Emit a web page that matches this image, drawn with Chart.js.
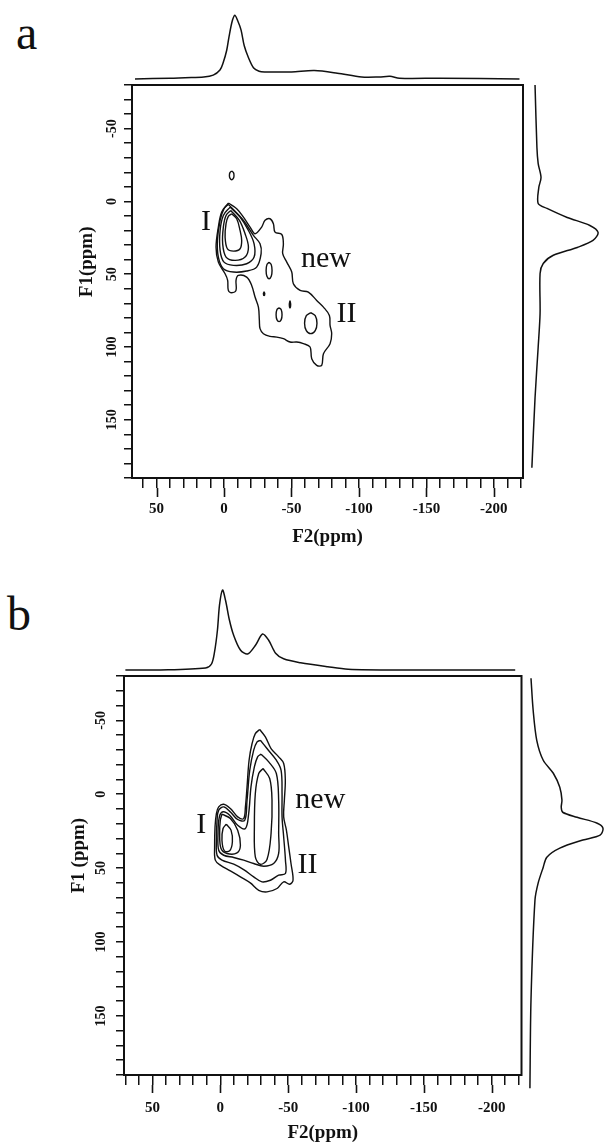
<!DOCTYPE html>
<html>
<head>
<meta charset="utf-8">
<title>2D exchange spectra</title>
<script src="https://cdn.jsdelivr.net/npm/chart.js@4.4.1/dist/chart.umd.min.js"></script>
<style>
  html, body { margin: 0; padding: 0; background: #fff; }
  #page { position: relative; width: 605px; height: 1143px; overflow: hidden; }
  .box { position: absolute; }
  .letter { position: absolute; font: 48px "Liberation Serif", serif; line-height: 48px; color: #111; }
</style>
</head>
<body>
<div id="page">
  <div class="letter" style="left:16px; top:9px;">a</div>
  <div class="letter" style="left:7px; top:590px;">b</div>
  <div class="box" style="left:0; top:60px; width:605px; height:500px;"><canvas id="mainA"></canvas></div>
  <div class="box" style="left:132px; top:12px; width:391px; height:72px;"><canvas id="topA"></canvas></div>
  <div class="box" style="left:524px; top:85px; width:81px; height:393px;"><canvas id="sideA"></canvas></div>
  <div class="box" style="left:0; top:650px; width:605px; height:493px;"><canvas id="mainB"></canvas></div>
  <div class="box" style="left:124px; top:585px; width:398px; height:88px;"><canvas id="topB"></canvas></div>
  <div class="box" style="left:522px; top:676px; width:83px; height:420px;"><canvas id="sideB"></canvas></div>
</div>
<script>
// axis labels (ppm)
const f2Labels = [50, 0, -50, -100, -150, -200];
const f1Labels = [-50, 0, 50, 100, 150];

// ---- panel a : contour rings, [F2, F1] in ppm ----
const aRing1 = [[-3.2,1.1],[-9.4,5.0],[-14.4,10.8],[-19.3,17.6],[-23.0,22.2],[-27.9,17.6],[-30.4,13.0],[-34.1,11.9],[-36.6,15.3],[-37.8,21.1],[-42.8,22.7],[-44.0,29.1],[-43.5,35.9],[-46.5,41.7],[-50.2,48.5],[-51.4,56.5],[-56.4,61.1],[-62.5,62.3],[-68.7,68.0],[-73.7,72.6],[-78.1,78.3],[-78.6,85.1],[-79.8,90.9],[-78.6,97.7],[-73.7,104.6],[-72.4,112.6],[-68.7,112.6],[-65.0,108.0],[-63.8,100.0],[-58.8,97.7],[-53.9,96.6],[-49.0,96.6],[-44.0,94.3],[-39.1,93.2],[-34.1,92.7],[-29.2,90.9],[-26.7,87.4],[-26.2,81.7],[-25.5,72.6],[-23.0,65.7],[-20.5,57.7],[-16.8,52.0],[-10.6,50.8],[-8.9,54.2],[-8.9,61.1],[-5.7,62.7],[-3.2,61.1],[-2.7,54.2],[-0.8,49.7],[4.2,41.7],[5.9,31.4],[4.2,17.6],[1.7,7.3]];
const aRing2 = [[-3.2,2.0],[-14.4,13.0],[-21.8,23.3],[-26.7,29.1],[-27.5,35.9],[-24.2,45.1],[-16.8,47.8],[-7.0,48.5],[0.5,46.2],[4.2,38.2],[4.9,26.8],[2.9,13.0],[0,5.0]];
const aRing3 = [[-4.5,3.9],[-11.9,10.8],[-18.1,19.9],[-22.3,29.1],[-22.3,38.2],[-16.8,42.8],[-7.0,43.9],[0,41.7],[2.9,33.6],[2.9,19.9],[0.5,9.6]];
const aRing4 = [[-5.0,6.2],[-11.4,13.0],[-15.6,22.2],[-18.1,31.4],[-15.6,38.2],[-8.2,40.5],[-1.5,38.2],[1.0,29.1],[0.5,17.6],[-1.5,9.6]];
const aRing5 = [[-5.7,8.5],[-9.4,11.9],[-11.9,19.9],[-13.1,26.8],[-11.9,32.5],[-7.0,34.1],[-2.5,32.5],[-0.8,24.5],[-1.5,15.3],[-3.2,10.3]];
const aDotTop = [[-5.7,-20.9],[-7.0,-19.8],[-7.4,-17.9],[-7.0,-16.0],[-5.7,-14.9],[-4.4,-16.0],[-4.0,-17.9],[-4.4,-19.8]];
const aBlob1 = [[-33.4,41.7],[-35.0,43.4],[-35.6,47.4],[-35.0,51.4],[-33.4,53.1],[-31.8,51.4],[-31.2,47.4],[-31.8,43.4]];
const aBlob2 = [[-29.7,62.1],[-30.2,63.4],[-29.7,64.7],[-29.2,63.4]];
const aBlob3 = [[-40.8,73.0],[-42.4,74.4],[-43.0,77.8],[-42.4,81.2],[-40.8,82.6],[-39.2,81.2],[-38.6,77.8],[-39.2,74.4]];
const aBlob4 = [[-48.9,68.2],[-49.4,70.7],[-48.9,73.2],[-48.4,70.7]];
const aBlobII = [[-64.3,76.4],[-67.6,78.5],[-68.9,83.6],[-67.6,88.7],[-64.3,90.8],[-61.0,88.7],[-59.7,83.6],[-61.0,78.5]];
const aLabels = [['I', 13.3, 19.6], ['new', -75.6, 45.1], ['II', -90.8, 82.8]];

// panel a projections
const aTopF2  = [66, 40, 29, 15, 8, 3, 0.7, -2, -3.7, -6, -8, -10, -12.6, -15, -18, -22, -26, -30, -50, -67, -84, -102, -115, -123, -130, -160, -219];
const aTopInt = [0, 0.01, 0.02, 0.03, 0.06, 0.14, 0.25, 0.45, 0.66, 0.9, 1.0, 0.92, 0.77, 0.52, 0.34, 0.17, 0.12, 0.11, 0.11, 0.13, 0.09, 0.03, 0.03, 0.04, 0.01, 0.01, 0];
const aSideF1  = [-80, -37, -26, -16.5, -9.6, 1.4, 4.8, 11, 16.5, 21.3, 26.8, 31.6, 37, 42.6, 49.5, 77, 100, 135, 183];
const aSideInt = [0, 0.03, 0.05, 0.095, 0.06, 0.05, 0.19, 0.51, 0.87, 1.0, 0.92, 0.67, 0.29, 0.13, 0.08, 0.08, 0.05, 0, -0.05];

// ---- panel b : contour rings ----
const bRing1 = [[-29.0,-43.8],[-33.2,-38.8],[-37.4,-30.9],[-43.0,-25.3],[-46.7,-20.8],[-47.9,-9.5],[-47.2,4.1],[-46.7,15.3],[-48.7,24.3],[-50.4,35.6],[-52.1,46.9],[-53.6,58.2],[-51.1,60.9],[-46.7,59.3],[-41.8,63.8],[-34.4,66.1],[-28.3,65.0],[-22.1,60.0],[-14.8,55.9],[-7.4,51.9],[0,48.0],[3.7,44.6],[4.2,35.6],[3.9,22.1],[2.9,13.1],[1.2,8.6],[-2.5,6.8],[-7.4,9.7],[-12.8,15.3],[-17.2,16.5],[-18.5,8.6],[-19.7,-5.0],[-21.2,-23.0],[-23.4,-34.3],[-25.8,-41.0]];
const bRing2 = [[-29.5,-36.5],[-34.4,-30.9],[-41.3,-23.0],[-44.8,-16.2],[-45.5,-0.5],[-45.5,15.3],[-46.7,28.9],[-48.0,44.6],[-48.0,53.7],[-43.0,54.8],[-36.9,58.2],[-30.7,59.3],[-24.6,55.9],[-17.2,51.0],[-9.9,47.3],[-1.2,44.6],[2.4,41.3],[2.9,31.1],[2.4,17.6],[1.2,10.8],[-2.5,8.6],[-7.4,12.0],[-12.8,17.1],[-18.0,17.6],[-19.7,4.1],[-21.7,-16.2],[-24.6,-29.8],[-27.1,-35.4]];
const bRing3 = [[-30.0,-27.1],[-35.7,-21.9],[-41.3,-14.0],[-43.0,4.1],[-43.0,26.6],[-43.0,40.1],[-39.3,46.9],[-32.0,48.7],[-24.6,46.9],[-17.2,44.6],[-9.9,42.8],[-2.5,41.3],[1.2,37.9],[1.7,26.6],[0.7,15.3],[-2.0,11.9],[-6.9,14.2],[-12.8,21.0],[-18.5,23.2],[-20.9,13.1],[-22.6,-5.0],[-25.1,-18.5],[-27.5,-25.3]];
const bRingI = [[-1.2,13.5],[-7.4,16.5],[-12.8,24.3],[-14.8,34.5],[-12.3,39.7],[-4.9,40.1],[-0.5,36.7],[0.5,26.6],[0,17.6]];
const bRingNew = [[-31.5,-17.4],[-36.4,-10.6],[-38.1,4.1],[-37.4,26.6],[-34.4,44.2],[-29.5,47.4],[-25.8,42.4],[-25.1,22.1],[-25.8,-0.5],[-28.3,-14.0]];
const bCoreI = [[-4.4,20.3],[-7.9,24.3],[-8.9,32.2],[-6.9,38.3],[-3.0,38.3],[-1.2,31.1],[-2.0,23.2]];
const bLabels = [['I', 14.0, 26.3], ['new', -73.7, 9.3], ['II', -64.2, 53.3]];

// panel b projections
const bTopF2  = [70, 44, 11, 6.6, 4.4, 2.2, 0.7, -1.5, -3.7, -6.6, -9.6, -14.7, -20, -25.8, -31, -35.4, -40.6, -46.5, -59, -79, -94, -133, -217];
const bTopInt = [0, 0, 0.025, 0.075, 0.22, 0.5, 0.81, 1.0, 0.875, 0.625, 0.44, 0.25, 0.2, 0.31, 0.45, 0.375, 0.21, 0.14, 0.09, 0.04, 0.01, 0, 0];
const bSideF1  = [-78.5, -56.8, -36.5, -23, -14.2, -4.7, 4, 8.8, 12.2, 15.6, 19.6, 23, 27.7, 31, 36.5, 42.6, 49.4, 60, 71.7, 139, 199];
const bSideInt = [0, 0.03, 0.08, 0.17, 0.31, 0.40, 0.43, 0.42, 0.44, 0.64, 0.92, 1.0, 0.96, 0.72, 0.40, 0.22, 0.17, 0.10, 0.055, 0, -0.015];

Chart.defaults.font.family = '"Liberation Serif", "Times New Roman", serif';
Chart.defaults.color = '#111';
Chart.defaults.animation = false;

const INK = '#111';

// box around the plot area
const frame = {
  id: 'frame',
  afterDraw(chart) {
    const {ctx, chartArea: a} = chart;
    ctx.save();
    ctx.strokeStyle = INK;
    ctx.lineWidth = 2;
    ctx.strokeRect(a.left, a.top, a.width, a.height);
    ctx.restore();
  }
};

// labelled F2 ticks are drawn longer
const majorTicks = {
  id: 'majorTicks',
  afterDraw(chart, args, o) {
    const {ctx, chartArea: a} = chart;
    const s = chart.scales.x;
    ctx.save();
    ctx.strokeStyle = INK;
    ctx.lineWidth = 1.6;
    f2Labels.forEach(v => {
      const px = Math.round(s.getPixelForValue(v)) + 0.5;
      ctx.beginPath();
      ctx.moveTo(px, a.bottom + o.from);
      ctx.lineTo(px, a.bottom + o.to);
      ctx.stroke();
    });
    ctx.restore();
  }
};

// site names next to the cross peaks
const peakLabels = {
  id: 'peakLabels',
  afterDatasetsDraw(chart, args, o) {
    const {ctx, scales: {x, y}} = chart;
    ctx.save();
    ctx.font = '30px "Liberation Serif", serif';
    ctx.fillStyle = INK;
    ctx.textAlign = 'center';
    ctx.textBaseline = 'alphabetic';
    o.items.forEach(([t, f2, f1]) => ctx.fillText(t, x.getPixelForValue(f2), y.getPixelForValue(f1)));
    ctx.restore();
  }
};

// F1 axis title, set a little above the middle of the axis
const sideTitle = {
  id: 'sideTitle',
  afterDraw(chart, args, o) {
    const {ctx, chartArea: a} = chart;
    ctx.save();
    ctx.translate(o.x, a.top + a.height * o.at);
    ctx.rotate(-Math.PI / 2);
    ctx.font = 'bold 19px "Liberation Serif", serif';
    ctx.fillStyle = INK;
    ctx.textAlign = 'center';
    ctx.textBaseline = 'middle';
    ctx.fillText(o.text, 0, 0);
    ctx.restore();
  }
};

function closed(r) {
  return r.concat([r[0]]).map(p => ({x: p[0], y: p[1]}));
}

function contourChart(id, c) {
  const datasets = c.rings.map(r => ({
    data: closed(r),
    showLine: true,
    borderColor: INK,
    borderWidth: 1.4,
    pointRadius: 0,
    pointHoverRadius: 0,
    tension: 0.35,
    fill: false
  }));
  return new Chart(document.getElementById(id), {
    type: 'scatter',
    data: {datasets},
    options: {
      responsive: true,
      maintainAspectRatio: false,
      events: [],
      layout: {padding: c.padding},
      plugins: {
        legend: {display: false},
        tooltip: {enabled: false},
        majorTicks: {from: 10, to: c.longTick},
        peakLabels: {items: c.labels},
        sideTitle: {text: c.f1Title, x: c.f1TitleX, at: 0.45}
      },
      scales: {
        x: {
          type: 'linear',
          reverse: true,
          min: c.f2Range[0],
          max: c.f2Range[1],
          afterFit: s => { s.height = c.xAxisHeight; },
          border: {display: false},
          grid: {drawOnChartArea: false, tickLength: 10, lineWidth: 1.5, color: INK},
          ticks: {
            stepSize: 10, includeBounds: false, autoSkip: false, maxRotation: 0,
            padding: c.xPad,
            font: {size: 15, weight: 'bold'},
            callback: v => f2Labels.includes(v) ? String(v) : ''
          },
          title: {
            display: true, text: 'F2(ppm)',
            font: {size: 19, weight: 'bold', lineHeight: 1},
            padding: {top: 0, bottom: c.titlePad}
          }
        },
        y: {
          type: 'linear',
          reverse: true,
          min: -80,
          max: 190,
          afterFit: s => { s.width = c.yAxisWidth; },
          border: {display: false},
          grid: {drawOnChartArea: false, tickLength: 8, lineWidth: 1.5, color: INK},
          ticks: {
            stepSize: 10, includeBounds: false, autoSkip: false,
            minRotation: 90, maxRotation: 90, crossAlign: 'center',
            padding: c.yPad,
            font: {size: 14, weight: 'bold'},
            callback: v => f1Labels.includes(v) ? String(v) : ''
          }
        }
      }
    },
    plugins: [frame, majorTicks, peakLabels, sideTitle]
  });
}

function traceChart(id, pts, xOpts, yOpts) {
  return new Chart(document.getElementById(id), {
    type: 'scatter',
    data: {datasets: [{
      data: pts, showLine: true, borderColor: INK, borderWidth: 1.5,
      pointRadius: 0, pointHoverRadius: 0, tension: 0.3, clip: false
    }]},
    options: {
      responsive: true,
      maintainAspectRatio: false,
      events: [],
      layout: {padding: 0},
      plugins: {legend: {display: false}, tooltip: {enabled: false}},
      scales: {
        x: Object.assign({type: 'linear', display: false}, xOpts),
        y: Object.assign({type: 'linear', display: false}, yOpts)
      }
    }
  });
}

contourChart('mainA', {
  rings: [aRing1, aRing2, aRing3, aRing4, aRing5, aDotTop, aBlob1, aBlob2, aBlob3, aBlob4, aBlobII],
  labels: aLabels,
  f2Range: [-221.6, 68.2],
  padding: {top: 25, right: 82, left: 0, bottom: 0},
  xAxisHeight: 82, yAxisWidth: 132,
  xPad: 12, yPad: 1, titlePad: 13, longTick: 19,
  f1Title: 'F1(ppm)', f1TitleX: 87
});

contourChart('mainB', {
  rings: [bRing1, bRing2, bRing3, bRingI, bRingNew, bCoreI],
  labels: bLabels,
  f2Range: [-222, 71],
  padding: {top: 26, right: 83.5, left: 0, bottom: 0},
  xAxisHeight: 68, yAxisWidth: 124,
  xPad: 14, yPad: 4, titlePad: 0, longTick: 18,
  f1Title: 'F1 (ppm)', f1TitleX: 79
});

traceChart('topA', aTopF2.map((f, i) => ({x: f, y: aTopInt[i]})),
  {reverse: true, min: -221.6, max: 68.2}, {min: -0.08, max: 1.05});
traceChart('sideA', aSideF1.map((f, i) => ({x: aSideInt[i], y: f})),
  {min: -0.175, max: 1.11}, {reverse: true, min: -80, max: 190});
traceChart('topB', bTopF2.map((f, i) => ({x: f, y: bTopInt[i]})),
  {reverse: true, min: -222, max: 71}, {min: -0.0375, max: 1.0625});
traceChart('sideB', bSideF1.map((f, i) => ({x: bSideInt[i], y: f})),
  {min: -0.125, max: 1.028}, {reverse: true, min: -80, max: 204.2});
</script>
</body>
</html>
